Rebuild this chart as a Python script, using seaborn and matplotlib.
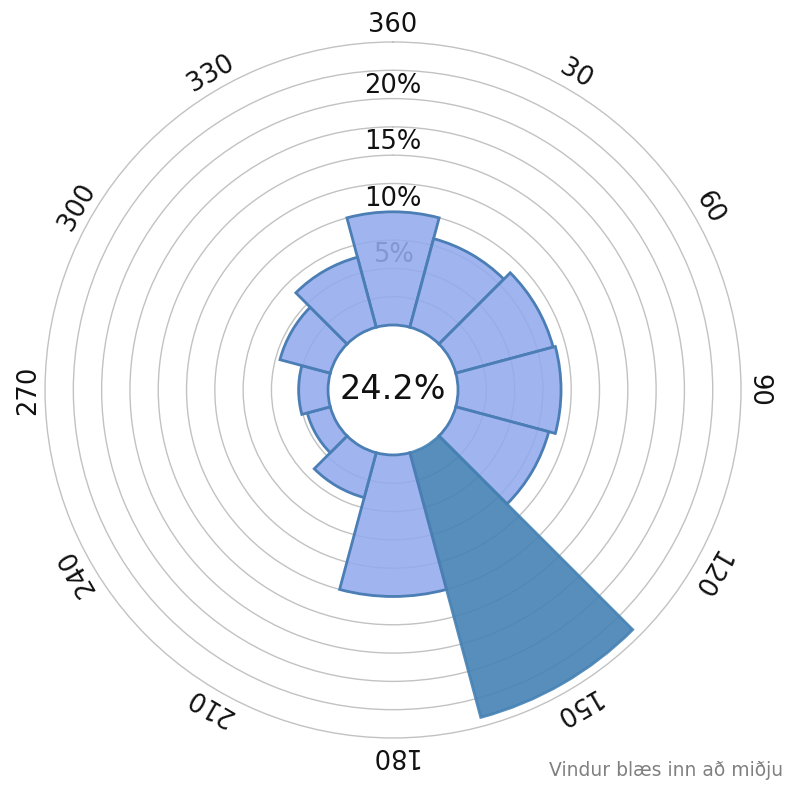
import numpy as np
import pandas as pd
import matplotlib
matplotlib.use("Agg")
import matplotlib.pyplot as plt
import seaborn as sns
from matplotlib.colors import to_rgba

# ---- data ----
directions = [0, 30, 60, 90, 120, 150, 180, 210, 240, 270, 300, 330]
direction_labels = ["360", "30", "60", "90", "120", "150", "180", "210", "240", "270", "300", "330"]
frequency = [10.0, 8.1, 8.9, 9.1, 8.5, 24.2, 12.5, 4.1, 2.1, 2.6, 4.6, 6.4]
highlight = "150"
center_text = "24.2%"
r_ticks = [5, 10, 15, 20]
r_ticklabels = ["5%", "10%", "15%", "20%"]
note = "Vindur blæs inn að miðju"

# ---- style ----
sns.set_theme(style="white")
plt.rcParams["font.family"] = ["DejaVu Sans"]

light_face = "#93aaee"
edge_col = "#4a7eb4"
dark_face = "steelblue"

fig = plt.figure(figsize=(7.87, 7.85), dpi=100)
ax = fig.add_axes([0.0572, 0.0599, 0.8844, 0.8866], projection="polar")
ax.set_theta_zero_location("N")
ax.set_theta_direction(-1)

df = pd.DataFrame({
    "theta": np.deg2rad(directions),
    "freq": frequency,
    "label": direction_labels,
})
palette = {lab: (dark_face if lab == highlight else light_face) for lab in direction_labels}
sns.barplot(data=df, x="theta", y="freq", hue="label", palette=palette,
            native_scale=True, width=1.0, saturation=1.0,
            edgecolor=edge_col, linewidth=2.0,
            legend=False, ax=ax, zorder=1)

dark_rgb = to_rgba(dark_face)[:3]
for p in ax.patches:
    fc = p.get_facecolor()
    p.set_clip_on(False)
    if np.allclose(fc[:3], dark_rgb, atol=0.03):
        p.set_facecolor(to_rgba(dark_face, 0.9))
        p.set_edgecolor(to_rgba(dark_face, 0.9))
    else:
        p.set_facecolor(to_rgba(light_face, 0.88))

ax.set_ylim(0, 25)
ax.set_rorigin(-5.74)
ax.set_yticks(np.arange(2.5, 25.0, 2.5))
ax.set_yticklabels([])
ax.set_xticks(np.deg2rad(directions))
ax.set_xticklabels([])
ax.xaxis.grid(False)
ax.yaxis.grid(True, color="#c2c2c2", linewidth=1.0)
ax.set_axisbelow(True)
ax.spines["polar"].set_color("#c2c2c2")
ax.spines["polar"].set_linewidth(1.0)
ax.spines["inner"].set_linewidth(0)
ax.spines["inner"].set_color("none")
ax.set_xlabel("")
ax.set_ylabel("")

# radial labels (behind the bars)
for r, lab in zip(r_ticks, r_ticklabels):
    ax.text(0, r, lab, ha="center", va="bottom", fontsize=18.5, color="#111111", zorder=0.8)

# direction labels, rotated tangentially
for d, lab in zip(directions, direction_labels):
    ax.text(np.deg2rad(d), 26.5, lab, rotation=-d, rotation_mode="anchor",
            ha="center", va="center", fontsize=18.5, color="#111111", clip_on=False)

ax.text(0.5, 0.5, center_text, transform=ax.transAxes, ha="center", va="center",
        fontsize=24, color="#111111")

fig.text(0.995, 0.019, note, ha="right", va="center", fontsize=13.5, color="#808080")

fig.savefig("out.png", dpi=100)
